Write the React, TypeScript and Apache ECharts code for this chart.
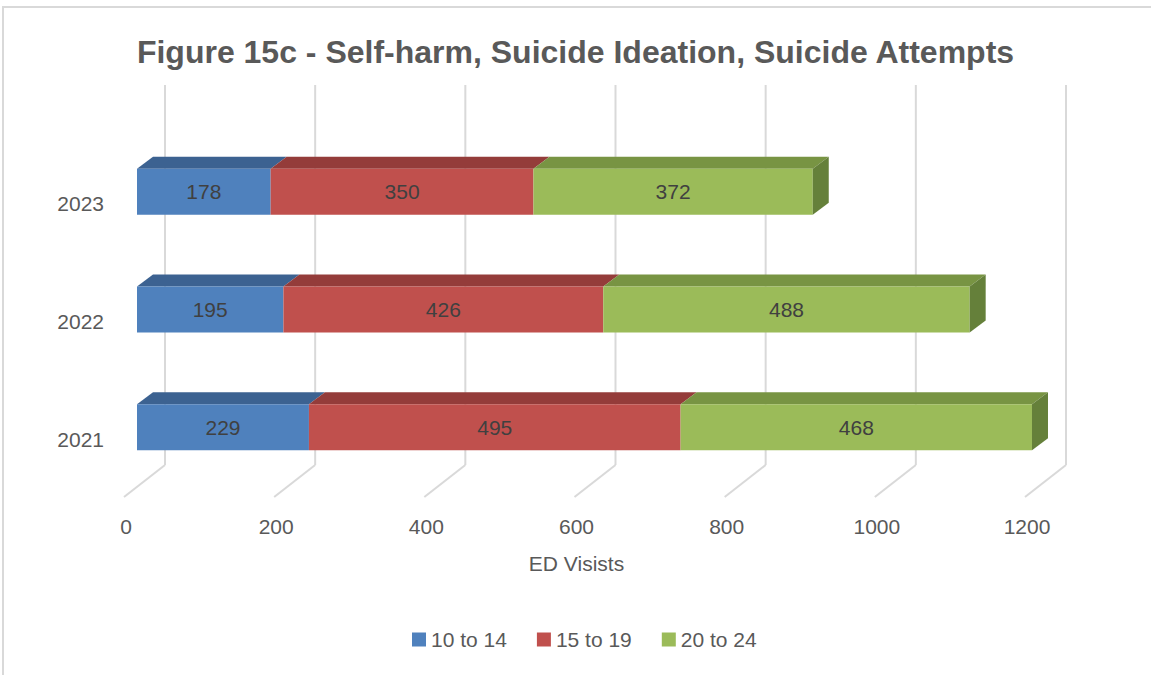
import React, { useEffect, useRef } from "react";
import * as echarts from "echarts";

const categories = ["2021", "2022", "2023"];
const seriesNames = ["10 to 14", "15 to 19", "20 to 24"];
const values10to14 = [229, 195, 178];
const values15to19 = [495, 426, 350];
const values20to24 = [468, 488, 372];
const xTicks = [0, 200, 400, 600, 800, 1000, 1200];

const frontColors = ["#4F81BD", "#C0504D", "#9BBB59"];
const topColors = ["#3C6291", "#943C3A", "#789443"];
const sideColors = ["#3C6291", "#7F3432", "#65803A"];

const FONT = "'Liberation Sans', Arial, sans-serif";

export default function App() {
  const ref = useRef<HTMLDivElement>(null);
  useEffect(() => {
    if (!ref.current) return;
    const chart = echarts.init(ref.current, undefined, { renderer: "svg" });
    const all = [values10to14, values15to19, values20to24];
    const barSeries = all.map((vals, k) => {
      const data = vals.map((v, i) => {
        let start = 0;
        for (let j = 0; j < k; j++) start += all[j][i];
        return [i, start, start + v, v];
      });
      const isLast = k === all.length - 1;
      return {
        type: "custom",
        name: seriesNames[k],
        itemStyle: { color: frontColors[k] },
        encode: { x: [1, 2], y: 0 },
        data,
        z: 3 + k,
        renderItem: (params: any, api: any) => {
          const cat = api.value(0);
          const s = api.value(1);
          const e = api.value(2);
          const val = api.value(3);
          const p0 = api.coord([s, cat]);
          const p1 = api.coord([e, cat]);
          const yt = p0[1] - 23;
          const yb = p0[1] + 23;
          const dx = 16;
          const dy = -12;
          const children: any[] = [
            {
              type: "polygon",
              shape: {
                points: [
                  [p0[0], yt],
                  [p0[0] + dx, yt + dy],
                  [p1[0] + dx, yt + dy],
                  [p1[0], yt],
                ],
              },
              style: { fill: topColors[k] },
            },
            {
              type: "rect",
              shape: { x: p0[0], y: yt, width: p1[0] - p0[0], height: yb - yt },
              style: { fill: frontColors[k] },
            },
          ];
          if (isLast) {
            children.push({
              type: "polygon",
              shape: {
                points: [
                  [p1[0], yt],
                  [p1[0] + dx, yt + dy],
                  [p1[0] + dx, yb + dy],
                  [p1[0], yb],
                ],
              },
              style: { fill: sideColors[k] },
            });
          }
          children.push({
            type: "text",
            x: (p0[0] + p1[0]) / 2,
            y: p0[1],
            style: {
              text: String(val),
              fill: "#404040",
              fontSize: 21,
              fontFamily: FONT,
              align: "center",
              verticalAlign: "middle",
            },
          });
          return { type: "group", children };
        },
      };
    });

    const gridSeries = {
      type: "custom",
      name: "grid",
      silent: true,
      z: 1,
      encode: { x: 0, y: 1 },
      data: xTicks.map((v) => [v, 0]),
      renderItem: (params: any, api: any) => {
        const cs = params.coordSys;
        const p = api.coord([api.value(0), 0]);
        const xb = p[0] + 28;
        const top = cs.y - 48;
        const bot = cs.y + cs.height - 21;
        return {
          type: "group",
          children: [
            {
              type: "line",
              shape: { x1: xb, y1: top, x2: xb, y2: bot },
              style: { stroke: "#D9D9D9", lineWidth: 2 },
            },
            {
              type: "line",
              shape: { x1: xb, y1: bot, x2: xb - 41, y2: bot + 32 },
              style: { stroke: "#D9D9D9", lineWidth: 2 },
            },
          ],
        };
      },
    };

    chart.setOption({
      animation: false,
      backgroundColor: "#ffffff",
      title: {
        text: "Figure 15c - Self-harm, Suicide Ideation, Suicide Attempts",
        left: "center",
        top: 31,
        textStyle: { fontSize: 32, fontWeight: "bold", color: "#595959", fontFamily: FONT },
      },
      graphic: [
        {
          type: "rect",
          shape: { x: 3, y: 7, width: 1200, height: 700 },
          style: { fill: "none", stroke: "#D9D9D9", lineWidth: 2 },
          silent: true,
          z: -1,
        },
      ],
      legend: {
        data: seriesNames,
        bottom: 20,
        left: 407,
        icon: "rect",
        itemWidth: 14,
        itemHeight: 14,
        itemGap: 30,
        textStyle: { fontSize: 21, color: "#595959", fontFamily: FONT },
      },
      grid: { left: 137, top: 133, width: 901, height: 353 },
      xAxis: {
        type: "value",
        min: 0,
        max: 1200,
        interval: 200,
        name: "ED Visists",
        nameLocation: "middle",
        nameGap: 67,
        nameTextStyle: { fontSize: 21, color: "#595959", fontFamily: FONT, padding: [0, 22, 0, 0] },
        axisLine: { show: false },
        axisTick: { show: false },
        splitLine: { show: false },
        axisLabel: {
          margin: 30,
          fontSize: 21,
          color: "#595959",
          fontFamily: FONT,
          padding: [0, 22, 0, 0],
          formatter: (v: number) => String(v),
        },
      },
      yAxis: {
        type: "category",
        data: categories,
        axisLine: { show: false },
        axisTick: { show: false },
        splitLine: { show: false },
        axisLabel: {
          margin: 33,
          fontSize: 21,
          color: "#595959",
          fontFamily: FONT,
          verticalAlign: "top",
          lineHeight: 24,
        },
      },
      series: [gridSeries, ...barSeries],
    });
    return () => chart.dispose();
  }, []);
  return (
    <div
      ref={ref}
      style={{ position: "absolute", left: 0, top: 0, width: 1151, height: 675 }}
    />
  );
}
